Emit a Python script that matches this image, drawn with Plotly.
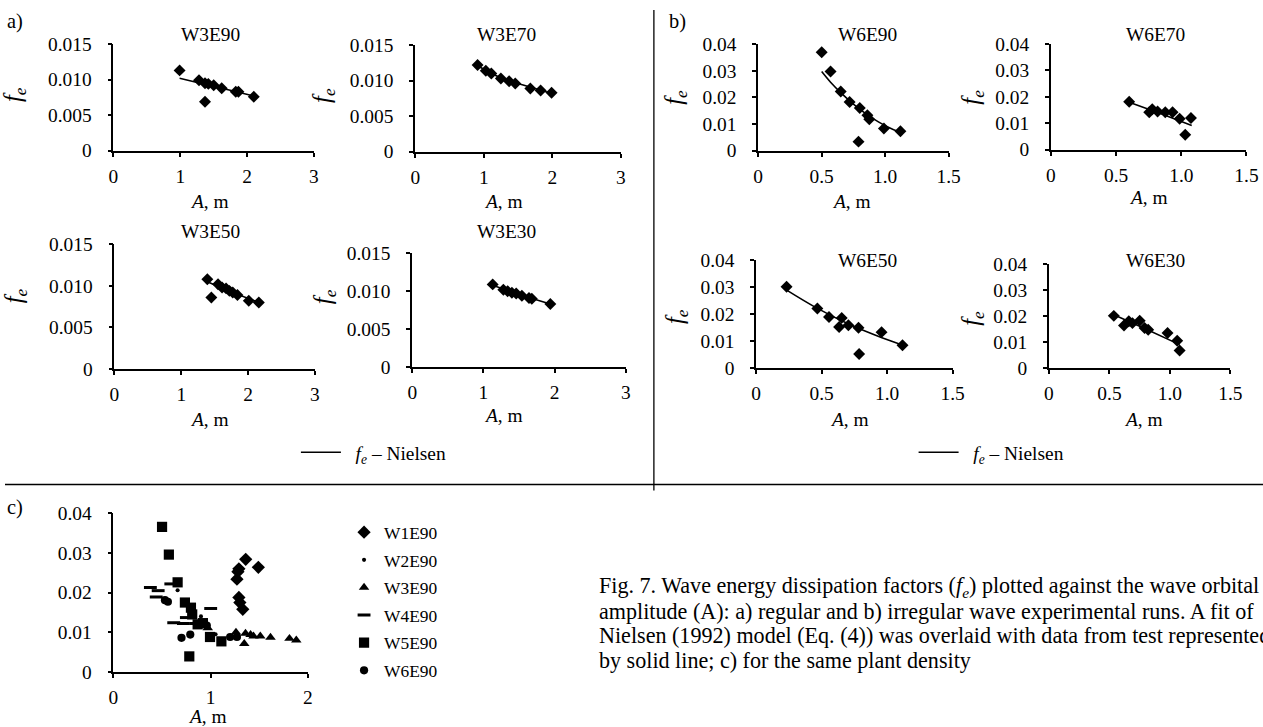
import plotly.graph_objects as go

# The photographed page shows the figure behind an 8 px body margin and slightly
# reduced; positions below are given in pixels of the 1263x727 picture and mapped.
SX, SY, M = 0.984, 0.975, 8
FIG_W = round(1263 / SX - M)
FIG_H = round(727 / SY - M)
K = 2 / (SX + SY)          # size compensation
SERIF = "Liberation Serif"

# ---------------- data ----------------
# a) regular waves
w3e90_A = [0.99, 1.28, 1.37, 1.42, 1.50, 1.37, 1.62, 1.83, 1.87, 2.10]
w3e90_f = [0.0113, 0.0099, 0.0095, 0.0094, 0.0092, 0.0069, 0.0088, 0.0083, 0.0083, 0.0076]
w3e90_fitA = [0.99, 1.30, 1.70, 2.10]
w3e90_fitf = [0.0102, 0.0095, 0.0086, 0.0077]

w3e70_A = [0.91, 1.03, 1.11, 1.25, 1.37, 1.46, 1.68, 1.83, 1.99]
w3e70_f = [0.0122, 0.0114, 0.0110, 0.0103, 0.0099, 0.0096, 0.0089, 0.0086, 0.0083]
w3e70_fitA = [0.91, 1.25, 1.60, 1.99]
w3e70_fitf = [0.0121, 0.0104, 0.0093, 0.0082]

w3e50_A = [1.39, 1.55, 1.45, 1.61, 1.67, 1.72, 1.77, 1.84, 2.01, 2.16]
w3e50_f = [0.0108, 0.0102, 0.0086, 0.0098, 0.0097, 0.0094, 0.0092, 0.0089, 0.0082, 0.0080]
w3e50_fitA = [1.39, 1.80, 2.16]
w3e50_fitf = [0.0105, 0.0091, 0.0080]

w3e30_A = [1.13, 1.28, 1.34, 1.40, 1.46, 1.54, 1.64, 1.68, 1.94]
w3e30_f = [0.0109, 0.0102, 0.0100, 0.0098, 0.0097, 0.0094, 0.0091, 0.0090, 0.0083]
w3e30_fitA = [1.13, 1.50, 1.94]
w3e30_fitf = [0.0108, 0.0096, 0.0083]

# b) irregular waves
w6e90_A = [0.50, 0.57, 0.65, 0.72, 0.80, 0.86, 0.875, 0.79, 0.99, 1.12]
w6e90_f = [0.0369, 0.0297, 0.0222, 0.0183, 0.0160, 0.0133, 0.0118, 0.0034, 0.0083, 0.0073]
w6e90_fitA = [0.50, 0.57, 0.65, 0.75, 0.85, 0.95, 1.05, 1.14]
w6e90_fitf = [0.0297, 0.0257, 0.0218, 0.0175, 0.0138, 0.0107, 0.0082, 0.0066]

w6e70_A = [0.60, 0.754, 0.777, 0.818, 0.877, 0.933, 0.987, 1.074, 1.03]
w6e70_f = [0.0182, 0.0142, 0.0153, 0.0145, 0.0142, 0.0142, 0.0117, 0.0120, 0.0057]
w6e70_fitA = [0.60, 0.85, 1.08]
w6e70_fitf = [0.0180, 0.0135, 0.0092]

w6e50_A = [0.232, 0.467, 0.556, 0.653, 0.633, 0.704, 0.781, 0.786, 0.957, 1.117]
w6e50_f = [0.0302, 0.0221, 0.0189, 0.0186, 0.0152, 0.0159, 0.0149, 0.0052, 0.0133, 0.0084]
w6e50_fitA = [0.23, 0.45, 0.71, 0.96, 1.12]
w6e50_fitf = [0.0290, 0.0226, 0.0162, 0.0112, 0.0084]

w6e30_A = [0.536, 0.62, 0.66, 0.69, 0.75, 0.79, 0.82, 0.98, 1.06, 1.08]
w6e30_f = [0.0201, 0.0164, 0.0180, 0.0173, 0.0182, 0.0154, 0.0147, 0.0135, 0.0105, 0.0067]
w6e30_fitA = [0.536, 0.80, 1.08]
w6e30_fitf = [0.0205, 0.0150, 0.0090]

# c) same plant density
c_w1_A = [1.36, 1.49, 1.29, 1.28, 1.27, 1.29, 1.30, 1.33]
c_w1_f = [0.0284, 0.0264, 0.0260, 0.0253, 0.0234, 0.0188, 0.0175, 0.0158]
c_w2_A = [0.66, 0.80, 0.90, 0.97, 1.05]
c_w2_f = [0.0206, 0.0150, 0.0140, 0.0115, 0.0095]
c_w3_A = [0.97, 1.26, 1.345, 1.358, 1.41, 1.44, 1.51, 1.615, 1.81, 1.88]
c_w3_f = [0.0111, 0.0100, 0.0071, 0.0097, 0.0094, 0.0090, 0.0090, 0.0087, 0.0084, 0.0080]
c_w4_A = [0.38, 0.46, 0.44, 0.59, 0.62, 0.72, 0.75, 0.85, 1.00]
c_w4_f = [0.0213, 0.0205, 0.0189, 0.0222, 0.0124, 0.0122, 0.0137, 0.0122, 0.0160]
c_w5_A = [0.50, 0.57, 0.66, 0.735, 0.797, 0.81, 0.866, 0.92, 0.78, 0.993, 1.11]
c_w5_f = [0.0366, 0.0296, 0.0226, 0.0175, 0.0162, 0.0145, 0.0120, 0.0123, 0.0039, 0.0088, 0.0077]
c_w6_A = [0.53, 0.56, 0.70, 0.79, 0.88, 0.96, 1.20, 1.27]
c_w6_f = [0.0181, 0.0177, 0.0086, 0.0094, 0.0120, 0.0117, 0.0088, 0.0088]

a_xticks = [0, 1, 2, 3]
a_xtext = ["0", "1", "2", "3"]
a_yticks = [0, 0.005, 0.010, 0.015]
a_ytext = ["0", "0.005", "0.010", "0.015"]
b_xticks = [0, 0.5, 1.0, 1.5]
b_xtext = ["0", "0.5", "1.0", "1.5"]
b_yticks = [0, 0.01, 0.02, 0.03, 0.04]
b_ytext = ["0", "0.01", "0.02", "0.03", "0.04"]
c_xticks = [0, 1, 2]
c_xtext = ["0", "1", "2"]

# ---------------- layout helpers ----------------
def fx(p):
    return (p / SX - M) / FIG_W

def fy(p):
    return 1 - (p / SY - M) / FIG_H

def sz(v):
    return round(v * K, 1)

# (title, A, f, fitA, fitf, x pixel span, y pixel span, xrange, yrange, kind, title pos, xlabel pos, ylabel pos)
panels = [
    ("W3E90", w3e90_A, w3e90_f, w3e90_fitA, w3e90_fitf, (116, 316), (42, 149), [0, 3], [0, 0.015], "a", (213, 32), (212, 200), (18, 93)),
    ("W3E70", w3e70_A, w3e70_f, w3e70_fitA, w3e70_fitf, (417, 622), (43, 150), [0, 3], [0, 0.015], "a", (508, 32), (505, 200), (326, 93)),
    ("W3E50", w3e50_A, w3e50_f, w3e50_fitA, w3e50_fitf, (117, 317), (243, 368), [0, 3], [0, 0.015], "a", (213, 230), (212, 419), (18, 295)),
    ("W3E30", w3e30_A, w3e30_f, w3e30_fitA, w3e30_fitf, (414, 627), (252, 366), [0, 3], [0, 0.015], "a", (508, 230), (505, 415), (326, 295)),
    ("W6E90", w6e90_A, w6e90_f, w6e90_fitA, w6e90_fitf, (759, 949), (42, 149), [0, 1.5], [0, 0.04], "b", (868, 32), (852, 200), (677, 95)),
    ("W6E70", w6e70_A, w6e70_f, w6e70_fitA, w6e70_fitf, (1051, 1246), (42, 148), [0, 1.5], [0, 0.04], "b", (1155, 32), (1148, 196), (973, 95)),
    ("W6E50", w6e50_A, w6e50_f, w6e50_fitA, w6e50_fitf, (757, 953), (259, 367), [0, 1.5], [0, 0.04], "b", (868, 259), (850, 419), (677, 315)),
    ("W6E30", w6e30_A, w6e30_f, w6e30_fitA, w6e30_fitf, (1049, 1230), (263, 367), [0, 1.5], [0, 0.04], "b", (1155, 259), (1143, 419), (972, 317)),
]

fig = go.Figure()
layout = dict(
    width=FIG_W, height=FIG_H, margin=dict(l=0, r=0, t=0, b=0),
    paper_bgcolor="white", plot_bgcolor="white",
    font=dict(family=SERIF, color="black", size=sz(18)),
    annotations=[], shapes=[],
)

TICKFONT = dict(family=SERIF, size=sz(19), color="black")


def axis_common():
    return dict(showline=True, linecolor="black", linewidth=1.8, ticks="outside",
                ticklen=4, tickwidth=1.5, tickcolor="black", showgrid=False,
                zeroline=False, tickfont=TICKFONT, fixedrange=True)


def add_axes(i, xspan, yspan, xr, yr, xt, xtt, yt, ytt):
    xn = "xaxis" if i == 1 else f"xaxis{i}"
    yn = "yaxis" if i == 1 else f"yaxis{i}"
    xa = axis_common()
    xa.update(domain=[fx(xspan[0]), fx(xspan[1])], range=xr, anchor=f"y{i}" if i > 1 else "y",
              tickmode="array", tickvals=xt, ticktext=xtt, ticklabelstandoff=3)
    ya = axis_common()
    ya.update(domain=[fy(yspan[1]), fy(yspan[0])], range=yr, anchor=f"x{i}" if i > 1 else "x",
              tickmode="array", tickvals=yt, ticktext=ytt, ticklabelstandoff=12)
    layout[xn] = xa
    layout[yn] = ya
    return ("x" if i == 1 else f"x{i}"), ("y" if i == 1 else f"y{i}")


def ann(text, x, y, size=18, xanchor="center", angle=0):
    layout["annotations"].append(dict(
        text=text, x=fx(x), y=fy(y), xref="paper", yref="paper",
        showarrow=False, xanchor=xanchor, yanchor="middle", textangle=angle,
        font=dict(family=SERIF, size=sz(size), color="black")))


for i, (name, A, f, fA, ff, xs, ys, xr, yr, kind, tpos, xlpos, ylpos) in enumerate(panels, start=1):
    if kind == "a":
        xa_, ya_ = add_axes(i, xs, ys, xr, yr, a_xticks, a_xtext, a_yticks, a_ytext)
    else:
        xa_, ya_ = add_axes(i, xs, ys, xr, yr, b_xticks, b_xtext, b_yticks, b_ytext)
    fig.add_trace(go.Scatter(x=A, y=f, mode="markers", xaxis=xa_, yaxis=ya_,
                             marker=dict(symbol="diamond", size=sz(9), color="black"),
                             showlegend=False, cliponaxis=False, hoverinfo="skip"))
    show = name in ("W3E30", "W6E30")
    fig.add_trace(go.Scatter(x=fA, y=ff, mode="lines", xaxis=xa_, yaxis=ya_,
                             line=dict(color="black", width=1.6, shape="spline"),
                             name="\u2002<i>f<sub>e</sub></i> – Nielsen",
                             showlegend=show,
                             legend="legend2" if name == "W3E30" else "legend3",
                             cliponaxis=False, hoverinfo="skip"))
    ann(name, *tpos, size=19)
    ann("<i>A</i>, m", *xlpos, size=19)
    ann("<i>f<sub>e</sub></i>", *ylpos, size=24, angle=-90)

# panel c
xa_, ya_ = add_axes(9, (116, 310), (513, 672), [0, 2], [0, 0.04], c_xticks, c_xtext, b_yticks, b_ytext)
c_series = [
    ("W1E90", c_w1_A, c_w1_f, dict(symbol="diamond", size=sz(10), color="black")),
    ("W2E90", c_w2_A, c_w2_f, dict(symbol="circle", size=sz(4), color="black")),
    ("W3E90", c_w3_A, c_w3_f, dict(symbol="triangle-up", size=sz(9), color="black")),
    ("W4E90", c_w4_A, c_w4_f, dict(symbol="line-ew", size=sz(9), color="black", line=dict(width=3, color="black"))),
    ("W5E90", c_w5_A, c_w5_f, dict(symbol="square", size=sz(10), color="black")),
    ("W6E90", c_w6_A, c_w6_f, dict(symbol="circle", size=sz(8), color="black")),
]
for nm, A, f, mk in c_series:
    fig.add_trace(go.Scatter(x=A, y=f, mode="markers", xaxis=xa_, yaxis=ya_, name=nm,
                             marker=mk, legend="legend", legendgroup=nm,
                             cliponaxis=False, hoverinfo="skip"))
ann("<i>A</i>, m", 210, 717, size=19)

# panel labels
ann("a)", 8, 19, size=20, xanchor="left")
ann("b)", 668, 19, size=20, xanchor="left")
ann("c)", 8, 507, size=20, xanchor="left")

# caption
caption = [
    "Fig. 7. Wave energy dissipation factors (<i>f<sub>e</sub></i>) plotted against the wave orbital",
    "amplitude (A): a) regular and b) irregular wave experimental runs. A fit of",
    "Nielsen (1992) model (Eq. (4)) was overlaid with data from test represented",
    "by solid line; c) for the same plant density",
]
for k, line in enumerate(caption):
    ann(line, 598, 587 + 24.5 * k, size=21.6, xanchor="left")

# separators
layout["shapes"] += [
    dict(type="line", xref="paper", yref="paper", x0=fx(655), x1=fx(655), y0=1, y1=fy(490),
         line=dict(color="black", width=1.3)),
    dict(type="line", xref="paper", yref="paper", x0=0, x1=1, y0=fy(484), y1=fy(484),
         line=dict(color="black", width=1.3)),
]

# legends
layout["legend"] = dict(x=fx(346), y=fy(514), xanchor="left", yanchor="top",
                        font=dict(family=SERIF, size=sz(17), color="black"),
                        bgcolor="rgba(0,0,0,0)", tracegroupgap=2, itemwidth=30)
layout["legend2"] = dict(x=fx(298), y=fy(452), xanchor="left", yanchor="middle",
                         font=dict(family=SERIF, size=sz(19), color="black"),
                         bgcolor="rgba(0,0,0,0)", itemwidth=40)
layout["legend3"] = dict(x=fx(914), y=fy(452), xanchor="left", yanchor="middle",
                         font=dict(family=SERIF, size=sz(19), color="black"),
                         bgcolor="rgba(0,0,0,0)", itemwidth=40)

fig.update_layout(**layout)
fig.write_html("out.html")
